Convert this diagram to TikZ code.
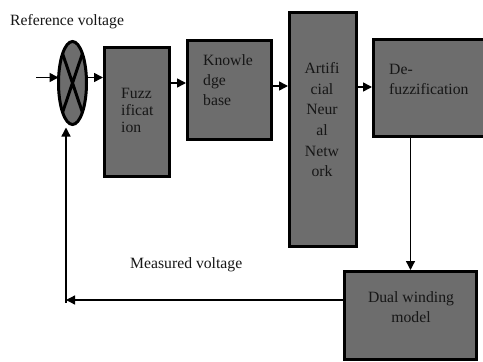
\documentclass[tikz,border=0pt]{standalone}
\usepackage{fontspec}
\setmainfont{Liberation Serif}
\usetikzlibrary{shapes.geometric,arrows.meta,calc}
\definecolor{boxgray}{RGB}{109,109,109}
\definecolor{txtgray}{RGB}{22,22,22}
\begin{document}
\begin{tikzpicture}[x=1pt,y=-1pt,
  blk/.style={draw=black,line width=3pt,fill=boxgray,inner sep=0pt,minimum width=#1},
  lbl/.style={inner sep=0pt,text=txtgray,font=\fontsize{15.7}{20}\selectfont},
  arr/.style={line width=1.6pt,-{Triangle[length=9pt,width=9pt]}},
  thin arr/.style={line width=1.3pt,-{Triangle[length=9pt,width=9pt]}}]
\useasboundingbox (0,0) rectangle (483,362);
% blocks
\node[ellipse,draw=black,line width=3pt,fill=boxgray,outer sep=0pt,inner sep=0pt,
      minimum width=28pt,minimum height=83pt] (sum) at (72.5,83) {};
\draw[line width=3pt] (sum.north west) -- (sum.south east)
                      (sum.north east) -- (sum.south west);
\node[blk=65pt,minimum height=129pt] (fuzz) at (137,112) {};
\node[blk=84pt,minimum height=99pt] (kb) at (229.5,90) {};
\node[blk=67pt,minimum height=234pt] (ann) at (323,129.5) {};
\node[blk=120pt,minimum height=97pt] (defuzz) at (433.5,88) {};
\node[blk=132pt,minimum height=88pt] (dual) at (410.5,315.5) {};
% texts
\node[lbl,anchor=north west] (reft) at (10,14.5) {Reference voltage};
\node[lbl,anchor=north west] (meast) at (130,257.5) {Measured voltage};
\node[lbl,anchor=north west,align=left,font=\fontsize{15.7}{17}\selectfont] (fuzzt) at (121,88.5) {Fuzz\\ificat\\ion};
\node[lbl,anchor=north west,align=left] (kbt) at (203,54.5) {Knowle\\dge\\base};
\node[lbl,anchor=north,align=center,font=\fontsize{15.7}{20.6}\selectfont] (annt) at (322,62.5) {Artifi\\cial\\Neur\\al\\Netw\\ork};
\node[lbl,anchor=north west,align=left] (defuzzt) at (389,64.5) {De-\\fuzzification};
\node[lbl,anchor=north,align=center] (dualt) at (411,291.5) {Dual winding\\model};
% connectors
\coordinate (in) at (36,77.5);
\coordinate (fb) at (66,300);
\coordinate (fbtop) at (66,127.5);
\draw[arr] (in) -- (in -| sum.west);
\draw[arr] ([yshift=5.5pt]sum.east) -- ([yshift=5.5pt]sum.east -| fuzz.west);
\draw[arr] ([yshift=29pt]fuzz.east) -- ([yshift=29pt]fuzz.east -| kb.west);
\draw[arr] ([yshift=4pt]kb.east) -- ([yshift=4pt]kb.east -| ann.west);
\draw[arr] ([yshift=1pt]defuzz.west -| ann.east) -- ([yshift=1pt]defuzz.west);
\draw[thin arr] (dual.north |- defuzz.south) -- (dual.north);
\draw[thin arr] (fb -| dual.west) -- (fb);
\draw[thin arr] ([yshift=-3pt]fb) -- (fbtop);
\end{tikzpicture}
\end{document}
